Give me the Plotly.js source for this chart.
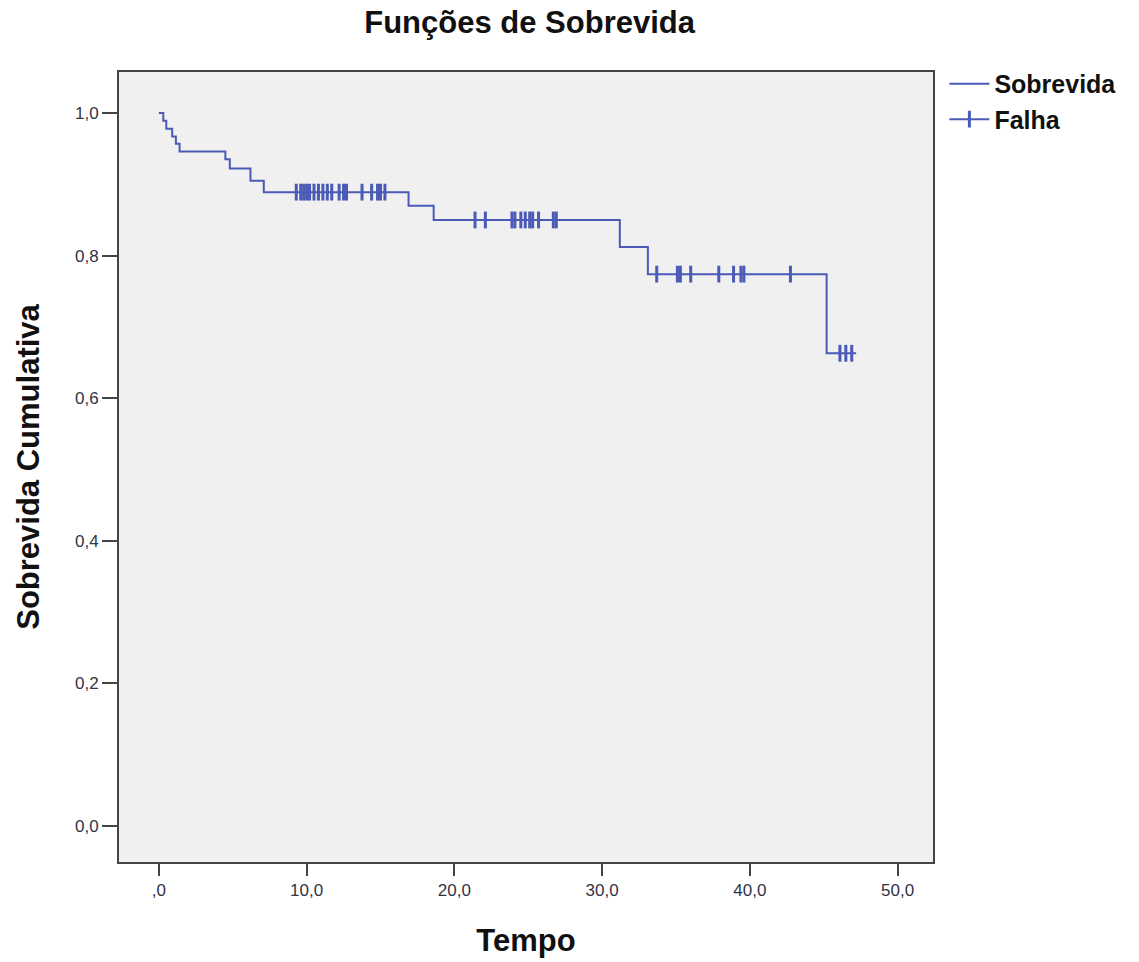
<!DOCTYPE html>
<html>
<head>
<meta charset="utf-8">
<script src="https://cdn.plot.ly/plotly-3.0.1.min.js"></script>
<style>html,body{margin:0;padding:0;background:#fff;}#chart{width:1139px;height:962px;}</style>
</head>
<body>
<div id="chart"></div>
<script>
// Kaplan-Meier step curve (time, cumulative survival)
const survTimes  = [0, 0.3, 0.5, 0.9, 1.15, 1.4, 4.5, 4.8, 6.2, 7.1, 16.9, 18.6, 31.2, 33.1, 45.2, 47.2];
const survValues = [1.0, 0.989, 0.978, 0.967, 0.957, 0.946, 0.935, 0.922, 0.905, 0.889, 0.870, 0.850, 0.812, 0.774, 0.663, 0.663];
// Censored observations (time)
const censorTimes = [9.3, 9.6, 9.8, 10.0, 10.2, 10.5, 10.8, 11.1, 11.4, 11.7, 12.2, 12.5, 12.7, 13.75,
  14.4, 14.8, 15.0, 15.3, 21.4, 22.1, 23.9, 24.1, 24.5, 24.8, 25.1, 25.3, 25.7, 26.7, 26.9,
  33.7, 35.1, 35.3, 36.0, 37.9, 38.9, 39.4, 39.6, 42.75, 46.1, 46.5, 46.9];
const xTickVals = [0, 10, 20, 30, 40, 50];
const xTickText = [',0', '10,0', '20,0', '30,0', '40,0', '50,0'];
const yTickVals = [0, 0.2, 0.4, 0.6, 0.8, 1.0];
const yTickText = ['0,0', '0,2', '0,4', '0,6', '0,8', '1,0'];

function survAt(t) {
  let v = survValues[0];
  for (let i = 0; i < survTimes.length; i++) { if (survTimes[i] <= t) v = survValues[i]; }
  return v;
}
const cx = [], cy = [];
censorTimes.forEach(t => { cx.push(t, null); cy.push(survAt(t), null); });

const col = '#4a5ab6';
const traces = [
  { x: survTimes, y: survValues, type: 'scatter', mode: 'lines', name: '<b>Sobrevida</b>',
    line: { shape: 'hv', color: col, width: 2 } },
  { x: cx, y: cy, type: 'scatter', mode: 'lines+markers', name: '<b>Falha</b>', connectgaps: false,
    line: { color: col, width: 2 },
    marker: { symbol: 'line-ns', size: 12, color: col, line: { color: col, width: 3 } } }
];

const tickFont = { family: 'Liberation Sans, Arial, sans-serif', size: 17, color: '#333344' };
const layout = {
  width: 1139, height: 962,
  margin: { l: 119, r: 206, t: 72, b: 100 },
  paper_bgcolor: '#ffffff', plot_bgcolor: '#f0f0f0',
  showlegend: true,
  title: { text: '<b>Funções de Sobrevida</b>', x: 0.465, xref: 'container', y: 0.977, yanchor: 'middle',
    font: { family: 'Liberation Sans, Arial, sans-serif', size: 31, color: '#111' } },
  xaxis: { range: [-2.7, 52.4], tickvals: xTickVals, ticktext: xTickText, showgrid: false, zeroline: false,
    showline: true, mirror: true, linecolor: '#444', linewidth: 2, ticks: 'outside', ticklen: 12, tickwidth: 2,
    tickcolor: '#444', tickfont: tickFont,
    title: { text: '<b>Tempo</b>', standoff: 30, font: { family: 'Liberation Sans, Arial, sans-serif', size: 31, color: '#111' } } },
  yaxis: { range: [-0.0505, 1.0575], tickvals: yTickVals, ticktext: yTickText, showgrid: false, zeroline: false,
    showline: true, mirror: true, linecolor: '#444', linewidth: 2, ticks: 'outside', ticklen: 15, tickwidth: 2,
    tickcolor: '#444', tickfont: tickFont,
    title: { text: '<b>Sobrevida Cumulativa</b>', standoff: 26, font: { family: 'Liberation Sans, Arial, sans-serif', size: 31, color: '#111' } } },
  legend: { x: 1.014, xanchor: 'left', y: 1.014, yanchor: 'top', bgcolor: 'rgba(0,0,0,0)',
    font: { family: 'Liberation Sans, Arial, sans-serif', size: 25, color: '#111' }, tracegroupgap: 0, itemwidth: 40 },
  hovermode: false
};
Plotly.newPlot('chart', traces, layout, { staticPlot: true, displayModeBar: false });
</script>
</body>
</html>
